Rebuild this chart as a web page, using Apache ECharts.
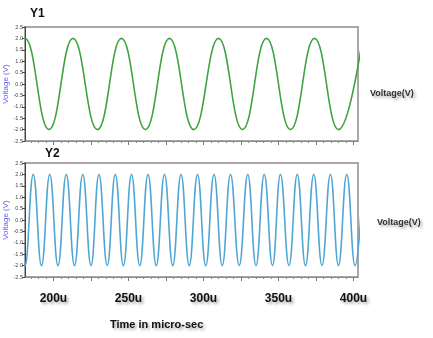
<!DOCTYPE html>
<html>
<head>
<meta charset="utf-8">
<script src="https://cdn.jsdelivr.net/npm/echarts@6/dist/echarts.min.js"></script>
<style>
  html, body { margin: 0; padding: 0; background: #fff; }
  #chart { width: 433px; height: 338px; }
</style>
</head>
<body>
<div id="chart"></div>
<script>
// peak / trough times (micro-sec)
const y1Times = [165, 181, 197, 213, 229.3, 245.3, 261.3, 277.3, 293.5, 310, 326, 342, 358, 374, 390, 406];
const y1Values = [-2, 2, -2, 2, -2, 2, -2, 2, -2, 2, -2, 2, -2, 2, -2, 2];

const y2Times = [175.5, 181, 186.5, 192, 197.5, 203, 208.5, 214, 219.5, 225, 230.3, 235.8, 241.2, 246.6,
  252, 257.5, 263, 268.5, 274, 279.5, 285, 290.5, 296, 301.5, 307, 312.5, 318, 323.8, 329.5, 335,
  340.5, 346, 351.3, 357, 362.5, 368, 373.5, 379, 384.6, 390, 395.5, 401, 406.5];
const y2Values = [2, -2, 2, -2, 2, -2, 2, -2, 2, -2, 2, -2, 2, -2, 2, -2, 2, -2, 2, -2, 2, -2,
  2, -2, 2, -2, 2, -2, 2, -2, 2, -2, 2, -2, 2, -2, 2, -2, 2, -2, 2, -2, 2];

const majorTicks = [200, 225, 250, 275, 300, 325, 350, 375, 400];
const tickLabels = [200, 250, 300, 350, 400];
const minorTicks = [];
for (let t = 185; t <= 400; t += 5) {
  if (t % 25 !== 0) minorTicks.push(t);
}

const X_MIN = 181;
const X_MAX = 403;
const boldFont = '"Liberation Sans", Arial, sans-serif';
const shadow = {
  textShadowColor: 'rgba(0,0,0,0.35)',
  textShadowBlur: 3,
  textShadowOffsetX: 2,
  textShadowOffsetY: 2,
};

function xAxisMajor(gridIndex, showLabels) {
  return {
    type: 'value',
    gridIndex,
    position: 'bottom',
    min: X_MIN,
    max: X_MAX,
    axisLine: { show: true, onZero: false, lineStyle: { color: '#8c8c8c', width: 1 } },
    axisTick: { show: true, customValues: majorTicks, length: 4, lineStyle: { color: '#777' } },
    axisLabel: {
      show: showLabels,
      customValues: tickLabels,
      formatter: (v) => v + 'u',
      margin: 16,
      fontSize: 12,
      fontWeight: 'bold',
      fontFamily: boldFont,
      color: '#111',
      ...shadow,
    },
    splitLine: { show: false },
  };
}

function xAxisMinor(gridIndex) {
  return {
    type: 'value',
    gridIndex,
    position: 'bottom',
    min: X_MIN,
    max: X_MAX,
    axisLine: { show: false, onZero: false },
    axisTick: { show: true, customValues: minorTicks, length: 2, lineStyle: { color: '#888' } },
    axisLabel: { show: false },
    splitLine: { show: false },
  };
}

function yAxis(gridIndex) {
  return {
    type: 'value',
    gridIndex,
    min: -2.5,
    max: 2.5,
    interval: 0.5,
    axisLine: { show: true, lineStyle: { color: '#444', width: 1 } },
    axisTick: { show: true, length: 3, lineStyle: { color: '#444' } },
    axisLabel: {
      fontSize: 5.5,
      margin: 2,
      color: '#444',
      formatter: (v) => v.toFixed(1),
    },
    splitLine: { show: false },
  };
}

function yName(centerY) {
  return {
    type: 'text',
    x: 6,
    y: centerY,
    rotation: Math.PI / 2,
    style: {
      text: 'Voltage (V)',
      font: '8px Arial, sans-serif',
      fill: '#5c5cf5',
      align: 'center',
      verticalAlign: 'middle',
    },
  };
}

const gridBase = {
  left: 25,
  right: 75,
  height: 114,
  outerBoundsMode: 'none',
  containLabel: false,
  show: true,
  borderColor: '#a8a8a8',
  borderWidth: 2,
  backgroundColor: 'transparent',
};

const chart = echarts.init(document.getElementById('chart'));
chart.setOption({
  backgroundColor: '#fff',
  animation: false,
  grid: [
    { ...gridBase, top: 27 },
    { ...gridBase, top: 163 },
  ],
  xAxis: [xAxisMajor(0, false), xAxisMajor(1, true), xAxisMinor(0), xAxisMinor(1)],
  yAxis: [yAxis(0), yAxis(1)],
  series: [
    {
      name: 'Y1',
      type: 'line',
      xAxisIndex: 0,
      yAxisIndex: 0,
      data: y1Times.map((t, i) => [t, y1Values[i]]),
      smooth: 0.45,
      showSymbol: false,
      lineStyle: { color: '#3fa33f', width: 1.6 },
    },
    {
      name: 'Y2',
      type: 'line',
      xAxisIndex: 1,
      yAxisIndex: 1,
      data: y2Times.map((t, i) => [t, y2Values[i]]),
      smooth: 0.45,
      showSymbol: false,
      lineStyle: { color: '#4fa6d3', width: 1.6 },
    },
  ],
  graphic: [
    yName(84),
    yName(220),
    { type: 'text', left: 30, top: 8, style: { text: 'Y1', font: 'bold 12px ' + boldFont, fill: '#111' } },
    { type: 'text', left: 45, top: 148, style: { text: 'Y2', font: 'bold 12px ' + boldFont, fill: '#111' } },
    { type: 'text', left: 370, top: 89, style: { text: 'Voltage(V)', font: 'bold 9px ' + boldFont, fill: '#333', ...shadow } },
    { type: 'text', left: 377, top: 218, style: { text: 'Voltage(V)', font: 'bold 9px ' + boldFont, fill: '#333', ...shadow } },
    { type: 'text', left: 110, top: 319, style: { text: 'Time in micro-sec', font: 'bold 11px ' + boldFont, fill: '#111', ...shadow } },
  ],
});
</script>
</body>
</html>
